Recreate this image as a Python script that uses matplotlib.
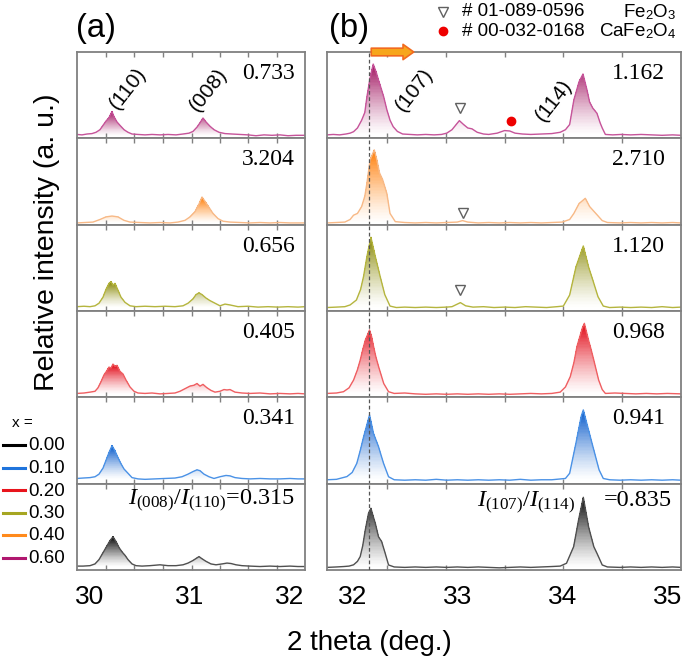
import numpy as np
import matplotlib
matplotlib.use('Agg')
import matplotlib.pyplot as plt
from matplotlib.lines import Line2D
from matplotlib.colors import to_rgb

plt.rcParams['font.family'] = ['Liberation Sans', 'DejaVu Sans']
plt.rcParams['mathtext.fontset'] = 'custom'
plt.rcParams['mathtext.rm'] = 'Liberation Serif'
plt.rcParams['mathtext.it'] = 'Liberation Serif:italic'
plt.rcParams['mathtext.sf'] = 'Liberation Sans'

# ---------------- data ----------------
compositions = ['0.60', '0.40', '0.30', '0.20', '0.10', '0.00']
legend_order = ['0.00', '0.10', '0.20', '0.30', '0.40', '0.60']
ratio_a = ['0.733', '3.204', '0.656', '0.405', '0.341', '0.315']
ratio_b = ['1.162', '2.710', '1.120', '0.968', '0.941', '0.835']
ticks_a = [30, 31, 32]
ticks_b = [32, 33, 34, 35]

# (2 theta, relative intensity), panel (a)
a060 = [(29.87, 0.045), (29.92, 0.04), (29.97, 0.05), (30.02, 0.055), (30.06, 0.07), (30.10, 0.10),
        (30.13, 0.15), (30.16, 0.20), (30.19, 0.24), (30.22, 0.31), (30.24, 0.25), (30.27, 0.19),
        (30.30, 0.15), (30.34, 0.10), (30.38, 0.07), (30.42, 0.05), (30.48, 0.045), (30.55, 0.04),
        (30.62, 0.045), (30.70, 0.04), (30.78, 0.045), (30.86, 0.04), (30.93, 0.05), (30.99, 0.06),
        (31.03, 0.08), (31.07, 0.13), (31.10, 0.18), (31.13, 0.235), (31.16, 0.19), (31.20, 0.14),
        (31.24, 0.10), (31.29, 0.07), (31.35, 0.055), (31.42, 0.05), (31.50, 0.045), (31.58, 0.04),
        (31.66, 0.03), (31.74, 0.04), (31.82, 0.035), (31.90, 0.04), (31.98, 0.03), (32.06, 0.035),
        (32.15, 0.035)]
a040 = [(29.87, 0.02), (29.95, 0.025), (30.03, 0.03), (30.10, 0.06), (30.16, 0.09), (30.22, 0.10),
        (30.28, 0.09), (30.34, 0.05), (30.40, 0.03), (30.50, 0.025), (30.60, 0.02), (30.70, 0.025),
        (30.80, 0.02), (30.88, 0.03), (30.95, 0.05), (31.00, 0.09), (31.05, 0.15), (31.09, 0.24),
        (31.12, 0.32), (31.15, 0.27), (31.19, 0.20), (31.23, 0.13), (31.28, 0.07), (31.33, 0.04),
        (31.40, 0.03), (31.50, 0.025), (31.60, 0.02), (31.70, 0.025), (31.80, 0.02), (31.90, 0.025),
        (32.00, 0.02), (32.15, 0.02)]
a030 = [(29.87, 0.05), (29.94, 0.055), (30.00, 0.05), (30.05, 0.06), (30.09, 0.09), (30.13, 0.16),
        (30.16, 0.25), (30.19, 0.32), (30.21, 0.34), (30.23, 0.30), (30.25, 0.32), (30.28, 0.24),
        (30.31, 0.16), (30.35, 0.10), (30.40, 0.06), (30.46, 0.05), (30.55, 0.055), (30.65, 0.05),
        (30.75, 0.055), (30.85, 0.05), (30.93, 0.06), (30.98, 0.09), (31.03, 0.14), (31.06, 0.19),
        (31.09, 0.21), (31.12, 0.19), (31.16, 0.15), (31.20, 0.12), (31.25, 0.09), (31.30, 0.06),
        (31.35, 0.08), (31.40, 0.07), (31.48, 0.05), (31.58, 0.055), (31.68, 0.045), (31.78, 0.05),
        (31.88, 0.045), (31.98, 0.05), (32.08, 0.045), (32.15, 0.05)]
a020 = [(29.87, 0.045), (29.94, 0.05), (30.00, 0.06), (30.05, 0.07), (30.08, 0.11), (30.11, 0.18),
        (30.14, 0.26), (30.17, 0.31), (30.19, 0.35), (30.21, 0.34), (30.23, 0.385), (30.25, 0.36),
        (30.27, 0.37), (30.30, 0.30), (30.33, 0.27), (30.36, 0.20), (30.40, 0.12), (30.44, 0.07),
        (30.48, 0.05), (30.55, 0.045), (30.62, 0.05), (30.70, 0.04), (30.78, 0.045), (30.85, 0.05),
        (30.90, 0.07), (30.95, 0.10), (31.00, 0.13), (31.04, 0.14), (31.07, 0.16), (31.10, 0.13),
        (31.13, 0.15), (31.17, 0.11), (31.21, 0.08), (31.25, 0.06), (31.30, 0.07), (31.34, 0.09),
        (31.37, 0.085), (31.40, 0.09), (31.45, 0.06), (31.52, 0.05), (31.60, 0.045), (31.70, 0.05),
        (31.80, 0.04), (31.90, 0.045), (32.00, 0.04), (32.08, 0.045), (32.15, 0.04)]
a010 = [(29.87, 0.06), (29.93, 0.065), (30.00, 0.07), (30.05, 0.08), (30.09, 0.11), (30.13, 0.18),
        (30.16, 0.27), (30.19, 0.36), (30.22, 0.44), (30.25, 0.38), (30.28, 0.30), (30.31, 0.23),
        (30.34, 0.17), (30.38, 0.12), (30.42, 0.07), (30.48, 0.055), (30.55, 0.05), (30.65, 0.055),
        (30.75, 0.06), (30.85, 0.065), (30.92, 0.08), (30.98, 0.11), (31.03, 0.14), (31.07, 0.16),
        (31.10, 0.15), (31.14, 0.11), (31.19, 0.08), (31.24, 0.06), (31.30, 0.08), (31.36, 0.095),
        (31.40, 0.09), (31.45, 0.07), (31.52, 0.06), (31.60, 0.055), (31.70, 0.06), (31.80, 0.055),
        (31.90, 0.055), (32.00, 0.06), (32.08, 0.055), (32.15, 0.055)]
a000 = [(29.87, 0.045), (29.93, 0.045), (30.00, 0.05), (30.05, 0.07), (30.09, 0.12), (30.13, 0.20),
        (30.17, 0.28), (30.20, 0.34), (30.23, 0.385), (30.26, 0.33), (30.29, 0.26), (30.32, 0.21),
        (30.35, 0.17), (30.38, 0.12), (30.42, 0.07), (30.46, 0.05), (30.52, 0.045), (30.60, 0.05),
        (30.70, 0.06), (30.78, 0.05), (30.86, 0.05), (30.93, 0.06), (30.98, 0.08), (31.03, 0.11),
        (31.07, 0.14), (31.09, 0.155), (31.12, 0.13), (31.16, 0.10), (31.21, 0.07), (31.26, 0.06),
        (31.32, 0.07), (31.37, 0.08), (31.41, 0.075), (31.46, 0.06), (31.52, 0.05), (31.60, 0.045),
        (31.70, 0.04), (31.80, 0.045), (31.90, 0.04), (32.00, 0.045), (32.08, 0.04), (32.15, 0.04)]

# panel (b)
b060 = [(31.76, 0.04), (31.82, 0.045), (31.88, 0.04), (31.94, 0.05), (31.98, 0.06), (32.013, 0.077),
        (32.05, 0.12), (32.09, 0.21), (32.12, 0.30), (32.14, 0.48), (32.17, 0.70), (32.20, 0.86),
        (32.23, 0.76), (32.25, 0.675), (32.275, 0.58), (32.30, 0.48), (32.33, 0.33), (32.36, 0.21),
        (32.39, 0.135), (32.43, 0.08), (32.48, 0.05), (32.55, 0.045), (32.62, 0.04), (32.70, 0.045),
        (32.78, 0.04), (32.85, 0.045), (32.90, 0.06), (32.95, 0.10), (33.02, 0.205), (33.06, 0.16),
        (33.10, 0.12), (33.14, 0.11), (33.19, 0.07), (33.25, 0.05), (33.30, 0.045), (33.38, 0.06),
        (33.45, 0.09), (33.50, 0.085), (33.55, 0.06), (33.62, 0.05), (33.70, 0.045), (33.80, 0.05),
        (33.90, 0.055), (33.98, 0.07), (34.03, 0.10), (34.07, 0.16), (34.11, 0.445), (34.16, 0.657),
        (34.197, 0.745), (34.235, 0.56), (34.26, 0.42), (34.29, 0.35), (34.33, 0.29), (34.36, 0.18),
        (34.38, 0.12), (34.41, 0.045), (34.48, 0.04), (34.56, 0.045), (34.65, 0.04), (34.75, 0.045),
        (34.85, 0.04), (34.95, 0.035), (35.05, 0.04), (35.13, 0.035)]
b040 = [(31.76, 0.02), (31.85, 0.025), (31.93, 0.03), (31.98, 0.06), (32.013, 0.11), (32.05, 0.13),
        (32.09, 0.21), (32.12, 0.33), (32.14, 0.48), (32.17, 0.75), (32.21, 0.866), (32.235, 0.75),
        (32.26, 0.60), (32.29, 0.52), (32.33, 0.36), (32.36, 0.13), (32.41, 0.035), (32.50, 0.025),
        (32.60, 0.02), (32.70, 0.025), (32.80, 0.02), (32.90, 0.025), (33.00, 0.03), (33.05, 0.047),
        (33.10, 0.03), (33.20, 0.02), (33.30, 0.025), (33.40, 0.02), (33.50, 0.025), (33.60, 0.02),
        (33.70, 0.025), (33.80, 0.02), (33.90, 0.025), (34.00, 0.03), (34.07, 0.06), (34.11, 0.13),
        (34.16, 0.245), (34.219, 0.305), (34.26, 0.21), (34.33, 0.115), (34.38, 0.047), (34.43, 0.025),
        (34.55, 0.02), (34.65, 0.025), (34.75, 0.02), (34.85, 0.025), (34.95, 0.02), (35.05, 0.025),
        (35.13, 0.02)]
b030 = [(31.76, 0.04), (31.85, 0.045), (31.93, 0.05), (31.98, 0.07), (32.04, 0.127), (32.08, 0.25),
        (32.108, 0.40), (32.14, 0.63), (32.178, 0.854), (32.22, 0.63), (32.266, 0.40), (32.31, 0.19),
        (32.36, 0.057), (32.42, 0.04), (32.50, 0.045), (32.60, 0.04), (32.70, 0.045), (32.80, 0.04),
        (32.90, 0.045), (32.95, 0.05), (33.03, 0.097), (33.08, 0.06), (33.15, 0.045), (33.25, 0.05),
        (33.35, 0.04), (33.45, 0.045), (33.55, 0.04), (33.65, 0.05), (33.75, 0.045), (33.85, 0.04),
        (33.95, 0.05), (34.01, 0.057), (34.07, 0.185), (34.13, 0.51), (34.20, 0.753), (34.25, 0.51),
        (34.29, 0.36), (34.34, 0.165), (34.39, 0.057), (34.45, 0.04), (34.55, 0.045), (34.65, 0.04),
        (34.75, 0.045), (34.85, 0.04), (34.95, 0.05), (35.05, 0.04), (35.13, 0.045)]
b020 = [(31.76, 0.045), (31.85, 0.05), (31.917, 0.065), (31.97, 0.11), (32.013, 0.20), (32.05, 0.32),
        (32.076, 0.43), (32.10, 0.55), (32.124, 0.66), (32.165, 0.78), (32.185, 0.70), (32.203, 0.59),
        (32.225, 0.47), (32.25, 0.36), (32.30, 0.16), (32.346, 0.065), (32.40, 0.045), (32.50, 0.05),
        (32.60, 0.04), (32.70, 0.035), (32.80, 0.04), (32.90, 0.035), (33.00, 0.04), (33.10, 0.035),
        (33.20, 0.04), (33.30, 0.035), (33.40, 0.04), (33.50, 0.035), (33.60, 0.04), (33.70, 0.045),
        (33.80, 0.04), (33.90, 0.045), (33.98, 0.06), (34.03, 0.12), (34.076, 0.24), (34.11, 0.40),
        (34.14, 0.59), (34.19, 0.80), (34.21, 0.857), (34.25, 0.66), (34.275, 0.55), (34.30, 0.43),
        (34.346, 0.20), (34.38, 0.09), (34.41, 0.045), (34.50, 0.05), (34.60, 0.045), (34.70, 0.04),
        (34.80, 0.045), (34.90, 0.04), (35.00, 0.045), (35.13, 0.04)]
b010 = [(31.76, 0.045), (31.85, 0.05), (31.95, 0.082), (32.00, 0.13), (32.044, 0.236), (32.08, 0.40),
        (32.108, 0.54), (32.165, 0.796), (32.203, 0.58), (32.25, 0.43), (32.298, 0.236), (32.346, 0.08),
        (32.40, 0.045), (32.50, 0.04), (32.60, 0.045), (32.70, 0.04), (32.80, 0.05), (32.90, 0.04),
        (33.00, 0.045), (33.10, 0.04), (33.20, 0.045), (33.30, 0.04), (33.40, 0.045), (33.50, 0.04),
        (33.60, 0.05), (33.70, 0.04), (33.80, 0.045), (33.90, 0.045), (34.03, 0.06), (34.07, 0.12),
        (34.13, 0.47), (34.18, 0.78), (34.20, 0.854), (34.25, 0.62), (34.30, 0.39), (34.35, 0.16),
        (34.39, 0.06), (34.45, 0.045), (34.55, 0.04), (34.65, 0.045), (34.75, 0.04), (34.85, 0.045),
        (34.95, 0.04), (35.05, 0.045), (35.13, 0.04)]
b000 = [(31.76, 0.03), (31.85, 0.035), (31.92, 0.04), (31.97, 0.045), (32.013, 0.06), (32.05, 0.10),
        (32.076, 0.155), (32.10, 0.28), (32.124, 0.46), (32.155, 0.655), (32.178, 0.715), (32.20, 0.62),
        (32.22, 0.54), (32.25, 0.385), (32.28, 0.33), (32.314, 0.193), (32.346, 0.058), (32.40, 0.035),
        (32.50, 0.03), (32.60, 0.035), (32.70, 0.03), (32.80, 0.035), (32.90, 0.03), (33.00, 0.035),
        (33.10, 0.03), (33.20, 0.035), (33.30, 0.03), (33.40, 0.025), (33.50, 0.03), (33.60, 0.035),
        (33.70, 0.03), (33.80, 0.035), (33.90, 0.04), (33.98, 0.045), (34.04, 0.078), (34.108, 0.27),
        (34.155, 0.58), (34.20, 0.842), (34.25, 0.50), (34.30, 0.27), (34.33, 0.193), (34.38, 0.058),
        (34.43, 0.035), (34.55, 0.03), (34.65, 0.035), (34.75, 0.03), (34.85, 0.035), (34.95, 0.03),
        (35.05, 0.035), (35.13, 0.03)]

curves_a = [a060, a040, a030, a020, a010, a000]
curves_b = [b060, b040, b030, b020, b010, b000]

# Fe2O3 (triangle) and CaFe2O4 (dot) markers in panel (b): (panel index, 2theta, height)
fe2o3_marks = [(0, 33.03, 0.35), (1, 33.05, 0.14), (2, 33.03, 0.243)]
cafe2o4_marks = [(0, 33.51, 0.20)]
ref_line_b = 32.16

# ---------------- styling ----------------
line_colors = {'0.60': '#c6549a', '0.40': '#f7b987', '0.30': '#b5b53e',
               '0.20': '#ef5f62', '0.10': '#4b92e6', '0.00': '#505050'}
fill_colors = {'0.60': '#9e0f5c', '0.40': '#ff7a00', '0.30': '#858500',
               '0.20': '#e0000e', '0.10': '#0054c8', '0.00': '#000000'}
legend_colors = {'0.00': '#000000', '0.10': '#1f74dc', '0.20': '#e8141c',
                 '0.30': '#a6a622', '0.40': '#ff8a1c', '0.60': '#b0176f'}
spine_col = '#808080'

W, H = 685, 663
fig = plt.figure(figsize=(W / 100, H / 100), dpi=100)


def fx(px):
    return px / W


def fy(py):
    return 1 - py / H


top_px, ph = 52.0, 86.33
col_a = (77, 228, (29.87, 32.15))
col_b = (327, 354, (31.76, 35.13))
minor_a = [30.16, 30.44, 30.73, 31.02, 31.30, 31.58, 31.87]
minor_b = [32.33, 32.89, 33.45, 34.01, 34.57]


def draw_curve(ax, pts, comp):
    x, y = np.array(pts).T
    base, peak = y.min(), y.max()
    c = np.array(to_rgb(fill_colors[comp]))
    white = np.ones(3)
    nb = 50
    levels = np.linspace(base, peak, nb + 1)[:-1]
    for j, lv in enumerate(levels):
        t = (j + 0.5) / nb
        a = t ** 1.3 * 0.97
        col = white * (1 - a) + c * a
        ax.fill_between(x, lv, y, where=(y > lv), interpolate=True, antialiased=False,
                        facecolor=col, edgecolor='none', lw=0, zorder=1)
    ax.plot(x, y, color=line_colors[comp], lw=1.0, zorder=2)


axes_a, axes_b = [], []
for col, curves, ratios, ticks, minors, store in (
        (col_a, curves_a, ratio_a, ticks_a, minor_a, axes_a),
        (col_b, curves_b, ratio_b, ticks_b, minor_b, axes_b)):
    x0, w, xl = col
    for i, comp in enumerate(compositions):
        bottom_px = top_px + ph * (i + 1)
        ax = fig.add_axes([fx(x0), fy(bottom_px), w / W, ph / H])
        draw_curve(ax, curves[i], comp)
        ax.set_xlim(*xl)
        ax.set_ylim(0, 1)
        ax.set_yticks([])
        ax.set_xticks(ticks)
        ax.set_xticks(minors, minor=True)
        ax.tick_params(axis='x', which='major', length=0, labelsize=19,
                       pad=11, labelbottom=(i == 5))
        ax.tick_params(axis='x', which='minor', direction='in', length=3.5,
                       width=1.0, color=spine_col, top=True, bottom=True)
        for s in ax.spines.values():
            s.set_color(spine_col)
            s.set_linewidth(1.3)
        if i < 5:
            ax.text(0.955, 0.75, ratios[i], transform=ax.transAxes, ha='right',
                    va='center', fontsize=17, family='Liberation Serif')
        store.append(ax)

# bottom-panel formulas
axes_a[5].text(0.955, 0.80, r'$I_{(008)}/I_{(110)}$=0.315', transform=axes_a[5].transAxes,
               ha='right', va='center', fontsize=17.5, family='Liberation Serif')
axes_b[5].text(0.70, 0.78, r'$I_{(107)}/I_{(114)}$', transform=axes_b[5].transAxes,
               ha='right', va='center', fontsize=17.5, family='Liberation Serif')
axes_b[5].text(0.975, 0.80, '=0.835', transform=axes_b[5].transAxes,
               ha='right', va='center', fontsize=17.5, family='Liberation Serif', zorder=0)

# dashed reference line
for ax in axes_b:
    ax.axvline(ref_line_b, color='#555555', lw=0.9, ls=(0, (3, 2)), zorder=3)

# phase markers
for (i, xm, ym) in fe2o3_marks:
    axes_b[i].plot([xm], [ym], marker='v', ms=7.5, mfc='white', mec='#606060', mew=1.0, zorder=4)
for (i, xm, ym) in cafe2o4_marks:
    axes_b[i].plot([xm], [ym], marker='o', ms=6, mfc='#ee0000', mec='#ee0000', zorder=4)

# peak labels
axes_a[0].text(30.38, 0.58, '(110)', rotation=52, ha='center', va='center', fontsize=15)
axes_a[0].text(31.18, 0.56, '(008)', rotation=52, ha='center', va='center', fontsize=15)
axes_b[0].text(32.59, 0.56, '(107)', rotation=52, ha='center', va='center', fontsize=15)
axes_b[0].text(33.92, 0.44, '(114)', rotation=52, ha='center', va='center', fontsize=15)

# orange shift arrow
axes_b[0].annotate('', xy=(0.245, 1.0), xytext=(0.125, 1.0), xycoords='axes fraction',
                   arrowprops=dict(arrowstyle='simple,head_length=0.7,head_width=1.0,tail_width=0.5',
                                   fc='#f7a61c', ec='#f26a1f', lw=1.2, mutation_scale=11,
                                   shrinkA=0, shrinkB=0),
                   annotation_clip=False, zorder=6)

# panel letters
fig.text(fx(76), fy(29), '(a)', fontsize=23.5, ha='left', va='center')
fig.text(fx(329), fy(29), '(b)', fontsize=23.5, ha='left', va='center')

# axis titles
fig.text(fx(47), fy(242), 'Relative intensity (a. u.)', rotation=90, fontsize=20.5,
         ha='center', va='center')
fig.text(fx(369), fy(643), '2 theta (deg.)', fontsize=20, ha='center', va='center')

# top-right phase legend
fig.add_artist(Line2D([fx(443)], [fy(12)], marker='v', ms=7.5, mfc='white', mec='#606060',
                      mew=1.0, transform=fig.transFigure))
fig.add_artist(Line2D([fx(443)], [fy(31)], marker='o', ms=6, mfc='#ee0000', mec='#ee0000',
                      transform=fig.transFigure))
fig.text(fx(462), fy(12), '# 01-089-0596', fontsize=13.5, ha='left', va='center')
fig.text(fx(462), fy(31), '# 00-032-0168', fontsize=13.5, ha='left', va='center')
fig.text(fx(676), fy(12), r'Fe$_\mathsf{2}$O$_\mathsf{3}$', fontsize=13.5, ha='right', va='center')
fig.text(fx(676), fy(31), r'CaFe$_\mathsf{2}$O$_\mathsf{4}$', fontsize=13.5, ha='right', va='center')

# composition legend
fig.text(fx(12), fy(423), 'x =', fontsize=11, ha='left', va='center')
for k, comp in enumerate(legend_order):
    yp = 445 + 22.5 * k
    fig.add_artist(Line2D([fx(3), fx(25)], [fy(yp), fy(yp)], color=legend_colors[comp],
                          lw=2.2, transform=fig.transFigure))
    fig.text(fx(28), fy(yp + 1), comp, fontsize=13.5, ha='left', va='center')

fig.savefig('out.png', dpi=100)
